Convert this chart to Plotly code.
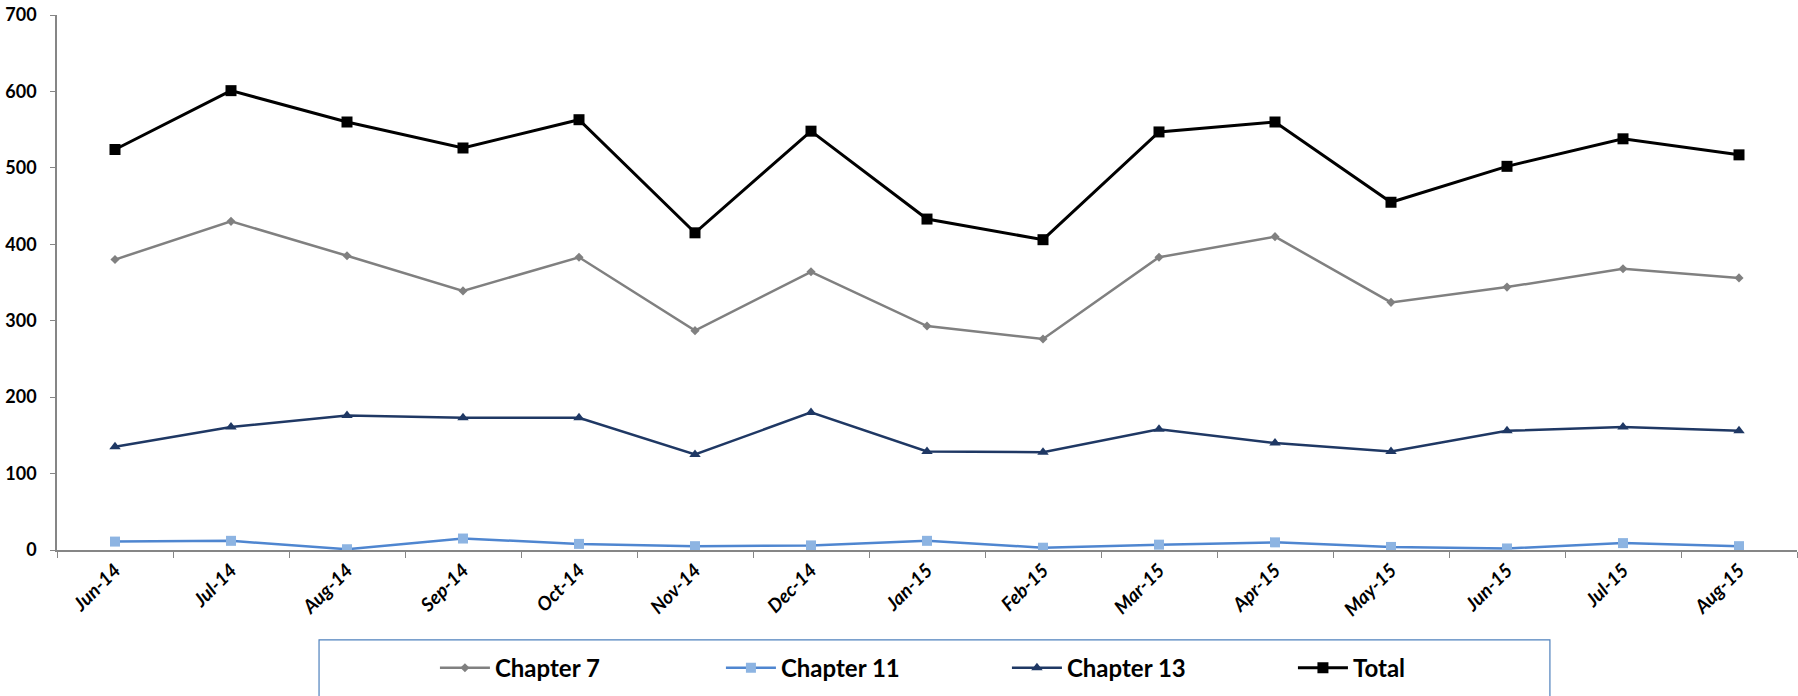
import plotly.graph_objects as go

months = ["Jun-14", "Jul-14", "Aug-14", "Sep-14", "Oct-14", "Nov-14", "Dec-14", "Jan-15",
          "Feb-15", "Mar-15", "Apr-15", "May-15", "Jun-15", "Jul-15", "Aug-15"]
chapter7 = [380, 430, 385, 339, 383, 287, 364, 293, 276, 383, 410, 324, 344, 368, 356]
chapter11 = [11, 12, 1, 15, 8, 5, 6, 12, 3, 7, 10, 4, 2, 9, 5]
chapter13 = [135, 161, 176, 173, 173, 125, 180, 129, 128, 158, 140, 129, 156, 161, 156]
total = [524, 601, 560, 526, 563, 415, 548, 433, 406, 547, 560, 455, 502, 538, 517]
y_ticks = [0, 100, 200, 300, 400, 500, 600, 700]

FONT = "Lato, 'Open Sans', sans-serif"

fig = go.Figure()
fig.add_trace(go.Scatter(x=months, y=chapter7, name="Chapter 7", mode="lines+markers",
                         line=dict(color="#808080", width=2.5),
                         marker=dict(symbol="diamond", size=7, color="#808080")))
fig.add_trace(go.Scatter(x=months, y=chapter11, name="Chapter 11", mode="lines+markers",
                         line=dict(color="#4F86D0", width=2.5),
                         marker=dict(symbol="square", size=10, color="#8DB4E2")))
fig.add_trace(go.Scatter(x=months, y=chapter13, name="Chapter 13", mode="lines+markers",
                         line=dict(color="#1F3864", width=2.5),
                         marker=dict(symbol="triangle-up", size=10, color="#1F3864")))
fig.add_trace(go.Scatter(x=months, y=total, name="Total", mode="lines+markers",
                         line=dict(color="#000000", width=3),
                         marker=dict(symbol="square", size=11, color="#000000")))

fig.update_layout(
    width=1798, height=696,
    margin=dict(l=57, r=1, t=15, b=146, autoexpand=False),
    paper_bgcolor="white", plot_bgcolor="white",
    font=dict(family=FONT, color="#000000"),
    showlegend=True,
    legend=dict(orientation="h", xref="container", yref="container",
                x=0.2419, xanchor="left", y=0.040, yanchor="middle",
                entrywidth=221, entrywidthmode="pixels", itemwidth=50,
                font=dict(family=FONT, size=24, weight="bold", color="#000000"),
                bgcolor="rgba(0,0,0,0)", borderwidth=0),
    shapes=[dict(type="rect", xref="paper", yref="paper", x0=0.1506, x1=0.858,
                 y0=-0.168, y1=-0.40, line=dict(color="#4F81BD", width=1.2))],
)
fig.update_xaxes(type="category", range=[-0.5, len(months) - 0.5], showline=True,
                 linecolor="#868686", linewidth=1.5,
                 ticks="outside", tickson="boundaries", ticklen=6, tickcolor="#868686",
                 tickangle=-45, showgrid=False, zeroline=False, automargin=False,
                 tickfont=dict(family=FONT, size=19, weight="bold", style="italic", color="#000000"))
fig.update_yaxes(range=[0, 700], tickvals=y_ticks, showline=True, linecolor="#868686",
                 linewidth=1.5, ticks="outside", ticklen=5, tickcolor="#868686",
                 ticklabelstandoff=10, showgrid=False, zeroline=False, automargin=False,
                 tickfont=dict(family=FONT, size=18, weight="bold", color="#000000"))

fig.write_html("out.html", config={"displayModeBar": False},
               post_script="document.body.style.margin='0';document.body.style.overflow='hidden';")
